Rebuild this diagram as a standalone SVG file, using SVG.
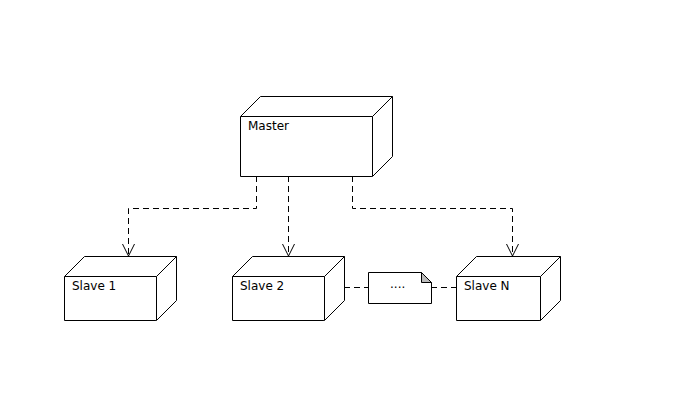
<svg xmlns="http://www.w3.org/2000/svg" width="688" height="416" viewBox="0 0 688 416">
<style>
.box{fill:#fff;stroke:#000;stroke-width:1}
.lbl{font-family:"DejaVu Sans",sans-serif;font-size:12px;fill:#000}
.dash{fill:none;stroke:#000;stroke-width:1;stroke-dasharray:6,4}
</style>
<defs>
<marker id="arr" markerWidth="14" markerHeight="14" refX="12" refY="6" orient="auto" markerUnits="userSpaceOnUse">
<path d="M0,0 L12,6 L0,12" fill="none" stroke="#000" stroke-width="1"/>
</marker>
</defs>
<rect width="688" height="416" fill="#fff"/>
<g id="connectors">
<path class="dash" d="M256.5,176 V208.5 H128.5 V256" marker-end="url(#arr)"/>
<path class="dash" d="M288.5,176 V256" marker-end="url(#arr)"/>
<path class="dash" d="M352.5,176 V208.5 H512.5 V256" marker-end="url(#arr)"/>
<path class="dash" d="M324,287.5 H369"/>
<path class="dash" d="M431,287.5 H457"/>
</g>
<g id="master">
<path class="box" d="M240.5,116.5 L260.5,96.5 H392.5 V156.5 L372.5,176.5 H240.5 Z"/>
<path class="box" d="M240.5,116.5 H372.5 V176.5 M372.5,116.5 L392.5,96.5"/>
<text class="lbl" x="248" y="130">Master</text>
</g>
<g id="slave1">
<path class="box" d="M64.5,276.5 L84.5,256.5 H176.5 V300.5 L156.5,320.5 H64.5 Z"/>
<path class="box" d="M64.5,276.5 H156.5 V320.5 M156.5,276.5 L176.5,256.5"/>
<text class="lbl" x="72" y="290">Slave 1</text>
</g>
<g id="slave2">
<path class="box" d="M232.5,276.5 L252.5,256.5 H344.5 V300.5 L324.5,320.5 H232.5 Z"/>
<path class="box" d="M232.5,276.5 H324.5 V320.5 M324.5,276.5 L344.5,256.5"/>
<text class="lbl" x="240" y="290">Slave 2</text>
</g>
<g id="slaveN">
<path class="box" d="M456.5,276.5 L476.5,256.5 H560.5 V300.5 L540.5,320.5 H456.5 Z"/>
<path class="box" d="M456.5,276.5 H540.5 V320.5 M540.5,276.5 L560.5,256.5"/>
<text class="lbl" x="464" y="290">Slave N</text>
</g>
<g id="note">
<path class="box" d="M368.5,272.5 H421.5 L431.5,282.5 V303.5 H368.5 Z"/>
<path d="M421.5,272.5 V282.5 H431.5 Z" fill="#bbb" stroke="#000" stroke-width="1"/>
<text class="lbl" x="390" y="288">....</text>
</g>
</svg>
